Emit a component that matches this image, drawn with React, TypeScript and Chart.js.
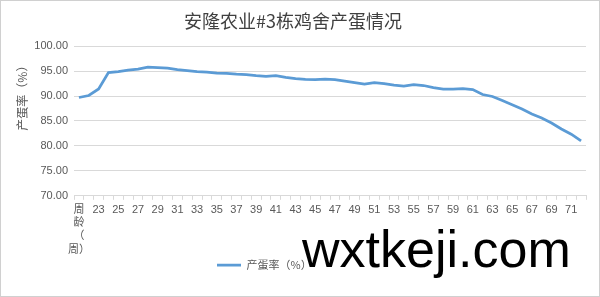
import React, { useEffect, useRef } from 'react';
import { Chart, registerables } from 'chart.js';

Chart.register(...registerables);

const chartTitle = '安隆农业#3栋鸡舍产蛋情况';
const yAxisTitle = '产蛋率（%）';
const seriesName = '产蛋率（%）';
const firstCategory = '周龄（周）';
const firstCategoryLines = ['周', '龄', '（', '周）'];
const weeks = [
  '22', '23', '24', '25', '26', '27', '28', '29', '30', '31',
  '32', '33', '34', '35', '36', '37', '38', '39', '40', '41',
  '42', '43', '44', '45', '46', '47', '48', '49', '50', '51',
  '52', '53', '54', '55', '56', '57', '58', '59', '60', '61',
  '62', '63', '64', '65', '66', '67', '68', '69', '70', '71', '72',
];
const categories = [firstCategory, ...weeks];
const layingRate = [
  89.7, 90.1, 91.4, 94.7, 94.9, 95.2, 95.4, 95.8, 95.7, 95.6,
  95.3, 95.1, 94.9, 94.8, 94.6, 94.55, 94.4, 94.3, 94.1, 93.95,
  94.1, 93.75, 93.5, 93.35, 93.3, 93.4, 93.3, 93.0, 92.7, 92.4,
  92.7, 92.5, 92.2, 92.0, 92.3, 92.1, 91.7, 91.4, 91.4, 91.5,
  91.3, 90.3, 89.9, 89.1, 88.25, 87.4, 86.4, 85.6, 84.6, 83.4,
  82.35, 81.0,
];
const yMin = 70;
const yMax = 100;
const yStep = 5;
const watermark = 'wxtkeji.com';

const FONT = "'Liberation Sans', 'Noto Sans CJK SC', sans-serif";
const CJK = "'Noto Sans CJK SC', sans-serif";
const TEXT = '#595959';
const TITLE = '#404040';
const GRID = '#d9d9d9';
const LINE = '#5B9BD5';

const customPlugin = {
  id: 'customBits',
  afterLayout(chart: any) {
    const lg = chart.legend;
    if (lg && lg.lineWidths) {
      const legendStart = 217;
      lg.right = 2 * legendStart + lg.lineWidths[0] - lg.left;
    }
  },
  afterDraw(chart: any) {
    const ctx = chart.ctx;
    const area = chart.chartArea;
    ctx.save();
    ctx.translate(22, area.top + 49);
    ctx.rotate(-Math.PI / 2);
    ctx.fillStyle = TEXT;
    ctx.font = `12px ${CJK}`;
    ctx.textAlign = 'center';
    ctx.textBaseline = 'middle';
    ctx.fillText(yAxisTitle, 0, 0);
    ctx.restore();
  },
};

export default function App() {
  const ref = useRef<HTMLCanvasElement | null>(null);

  useEffect(() => {
    if (!ref.current) return;
    const chart = new Chart(ref.current, {
      type: 'line',
      data: {
        labels: categories,
        datasets: [
          {
            label: seriesName,
            data: layingRate,
            borderColor: LINE,
            backgroundColor: LINE,
            borderWidth: 2.75,
            pointRadius: 0,
            tension: 0,
            fill: false,
          },
        ],
      },
      options: {
        responsive: false,
        animation: false,
        layout: { padding: { left: 0, right: 14, top: 0, bottom: 16.5 } },
        plugins: {
          title: {
            display: true,
            text: chartTitle,
            color: TITLE,
            font: { family: CJK, size: 18, weight: 'normal' },
            padding: { top: 10, bottom: 14.5 },
          },
          legend: {
            position: 'bottom',
            labels: {
              usePointStyle: true,
              pointStyle: 'line',
              pointStyleWidth: 24,
              padding: 0,
              color: TEXT,
              font: { family: CJK, size: 11 },
            },
          },
          tooltip: { enabled: false },
        },
        scales: {
          x: {
            offset: true,
            grid: {
              display: true,
              drawOnChartArea: false,
              drawTicks: true,
              tickLength: 4,
              color: GRID,
              offset: true,
            },
            border: { display: true, color: GRID },
            ticks: {
              autoSkip: false,
              maxRotation: 0,
              minRotation: 0,
              padding: 3,
              color: TEXT,
              font: { family: FONT, size: 11, lineHeight: 1.22 },
              callback: (_v: any, i: number) =>
                i === 0 ? firstCategoryLines : i % 2 === 0 ? categories[i] : '',
            },
          },
          y: {
            min: yMin,
            max: yMax,
            grid: { color: GRID, drawTicks: false },
            border: { display: false },
            ticks: {
              stepSize: yStep,
              padding: 6,
              color: TEXT,
              font: { family: FONT, size: 11 },
              callback: (v: any) => Number(v).toFixed(2),
            },
            afterFit: (scale: any) => {
              scale.width = 74;
            },
          },
        },
      },
      plugins: [customPlugin],
    } as any);
    return () => chart.destroy();
  }, []);

  return (
    <div
      style={{
        position: 'fixed',
        left: 0,
        top: 0,
        width: 600,
        height: 297,
        background: '#fff',
        overflow: 'hidden',
      }}
    >
      <canvas
        ref={ref}
        width={600}
        height={297}
        style={{ position: 'absolute', left: 0, top: 0 }}
      />
      <div
        style={{
          position: 'absolute',
          left: 0,
          top: 0,
          width: 600,
          height: 297,
          boxSizing: 'border-box',
          border: '1px solid #d0d0d0',
          pointerEvents: 'none',
        }}
      />
      <div
        style={{
          position: 'absolute',
          left: 302,
          top: 223,
          fontFamily: "'Liberation Sans', sans-serif",
          fontSize: 52,
          lineHeight: 1,
          color: '#000',
          whiteSpace: 'nowrap',
        }}
      >
        {watermark}
      </div>
    </div>
  );
}
